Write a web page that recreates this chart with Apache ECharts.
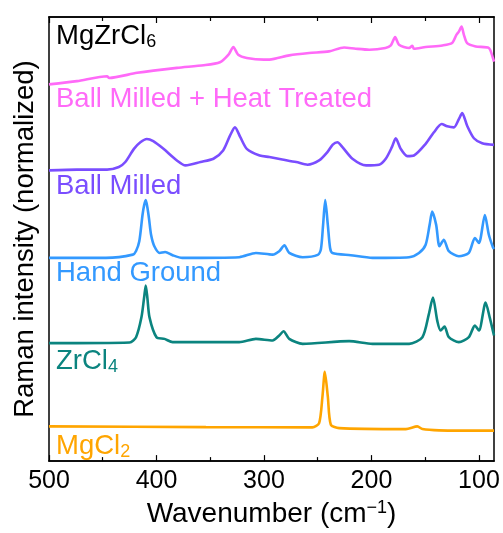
<!DOCTYPE html>
<html>
<head>
<meta charset="utf-8">
<script src="https://cdn.jsdelivr.net/npm/echarts@6/dist/echarts.min.js"></script>
<style>
html,body{margin:0;padding:0;background:#fff}
#chart{width:503px;height:533px}
</style>
</head>
<body>
<div id="chart"></div>
<script>
// spectra, stacked with offsets: [wavenumber (cm-1), intensity + offset]
var heatTreated = [[500,380],[474,383.3],[446,388.3],[444,386.5],[418,391.7],[381,396.7],[356,399.3],[341,402.3],[333,410],[328.5,417.7],[324,410],[316,406.7],[300,405],[295,405],[276.5,409.3],[258,411.7],[239.5,413.3],[225.5,417.3],[214.6,416],[202,415],[187,416.7],[182,419.3],[178,427.7],[174.4,420],[165,416.7],[162,419],[160.5,416],[149.6,417.7],[134,419.3],[125,421.7],[121,430],[118.7,433.3],[116.2,438.3],[114,430],[111,421.7],[103,418.3],[90.8,416.7],[87,406.7],[86,403]];
var ballMilled = [[500,293.3],[474,294],[446,294],[435,296.7],[429,301.7],[421,315],[415,321.7],[409,325],[403,322.7],[393.5,315],[381,303.3],[373,298.3],[359,301.7],[347,305],[338,313.3],[331.6,328.3],[327,336.7],[322,326.7],[316,315],[304,308.3],[295,306.7],[283,304.3],[270,301.7],[259.5,299],[248.7,303.3],[241,311.7],[236,319.3],[231.7,321.7],[227,316.7],[217.7,305],[205,298.3],[193,299],[186.7,305],[181,316.7],[177.4,325.7],[172.8,315],[166.7,307.7],[160.5,308.3],[149.6,320],[141.9,331.7],[134.7,340],[129.5,337.7],[123.3,336.7],[118.7,345],[115.6,351],[111,338.3],[104.7,325.7],[97,320.7],[86,319]];
var handGround = [[500,205],[447,205],[422,208.3],[419,212],[416,221.7],[413,248.3],[411.5,258],[410,263.3],[408.5,256],[407,245],[405,228],[402,216.7],[397,210],[392,211],[385,207.7],[376,205],[323,205.7],[307.5,210],[292,208.3],[285.8,211.7],[281,217.7],[276.5,210],[264,205.7],[250,208],[247,214],[245,238.3],[243,263.3],[240.6,238.3],[238.5,215],[236.3,210],[219.3,207.7],[199,205],[165,205.7],[155.8,210],[149.6,218.3],[145.9,238.3],[143.5,251.7],[139.8,238.3],[136.7,216.7],[132.7,223.3],[128,211.7],[118.7,206.7],[109.4,210],[103.8,225],[100,220],[94.5,248.3],[90.8,228.3],[87,215.7],[86,214]];
var zrcl4 = [[500,119],[425,119.7],[419,125],[414,145],[411.5,165],[410,177],[408.5,165],[406.5,145],[400,125],[392.5,123.3],[385,120],[323,120],[307.5,123.3],[292,121.7],[285.8,126.7],[281.8,131],[276.5,123.3],[264,118.3],[220.8,121],[199,118.3],[165,118.3],[152.6,125],[146.6,148.3],[142.8,165],[138.8,141.7],[135.7,131.7],[132,135.7],[128,125],[118.7,120],[109.4,125],[103.8,136.7],[100,131.7],[93.8,160],[90,145],[86,126.7]];
var mgcl2 = [[500,35],[354,34.3],[255,34],[248.7,38.3],[245.6,65],[243.4,90],[240.6,65],[237.8,36.7],[230,33.3],[168,32.3],[157.3,35],[152.6,32.3],[137,31],[86,30.7]];

var spectra = [heatTreated, ballMilled, handGround, zrcl4, mgcl2];
var seriesNames = ['Ball Milled + Heat Treated', 'Ball Milled', 'Hand Ground', 'ZrCl4', 'MgCl2'];
// label text in rich-text form (subscripts)
var labelTexts = ['{m|Ball Milled + Heat Treated}', '{m|Ball Milled}', '{m|Hand Ground}', '{m|ZrCl}{s|4}', '{m|MgCl}{s|2}'];
var colors = ['#ff6af8', '#7a4dff', '#3399ff', '#0b847f', '#ffa500'];
var titleText = '{m|MgZrCl}{s|6}';
var xMajor = [100, 200, 300, 400, 500];
var xMinor = [150, 250, 350, 450];

var FONT = '"Liberation Sans", Arial, Helvetica, sans-serif';
var chart = echarts.init(document.getElementById('chart'));

function richStyle(col) {
  return {
    m: {fontSize: 27.5, fontFamily: FONT, fill: col, lineHeight: 30},
    s: {fontSize: 18, fontFamily: FONT, fill: col, lineHeight: 13, verticalAlign: 'bottom'}
  };
}

function xAx(pos, vals, len, showLabel) {
  return {
    type: 'value', position: pos, min: 86, max: 500, inverse: true,
    axisLine: {show: true, onZero: false, lineStyle: {color: '#000', width: 1.5}},
    axisTick: {show: true, inside: true, length: len, customValues: vals, lineStyle: {color: '#000', width: 1.2}},
    axisLabel: {show: showLabel, customValues: vals, margin: 8, color: '#000', fontSize: 25, fontFamily: FONT},
    splitLine: {show: false}
  };
}

var xAxes = [xAx('bottom', xMajor, 6, true), xAx('bottom', xMinor, 4, false), xAx('top', xMajor, 6, false), xAx('top', xMinor, 4, false)];
xAxes[0].name = '{m|Wavenumber (cm}{p|\u22121}{m|)}';
xAxes[0].nameLocation = 'middle';
xAxes[0].nameGap = 36;
xAxes[0].nameTextStyle = {
  rich: {
    m: {fontSize: 28, fontFamily: FONT, color: '#000', lineHeight: 30},
    p: {fontSize: 18, fontFamily: FONT, color: '#000', lineHeight: 22, verticalAlign: 'top'}
  }
};

var series = spectra.map(function (d, i) {
  return {
    name: seriesNames[i], type: 'line', data: d, showSymbol: false,
    smooth: 0.25, xAxisIndex: 0, yAxisIndex: 0,
    lineStyle: {color: colors[i], width: 2.6}, itemStyle: {color: colors[i]}
  };
});

var labelY = [100, 187.5, 274, 362.5, 447];
var graphic = labelTexts.map(function (t, i) {
  return {
    type: 'text', left: 56, top: labelY[i] - 15, z: 10,
    style: {text: t, rich: richStyle(colors[i]), fill: colors[i], fontSize: 27.5, fontFamily: FONT}
  };
});
graphic.push({
  type: 'text', left: 56, top: 37 - 15, z: 10,
  style: {text: titleText, rich: richStyle('#000'), fill: '#000', fontSize: 27.5, fontFamily: FONT}
});

chart.setOption({
  animation: false,
  backgroundColor: '#fff',
  grid: {left: 49, right: 9, top: 17, bottom: 68},
  xAxis: xAxes,
  yAxis: [{
    type: 'value', min: 0, max: 448,
    name: 'Raman intensity (normalized)', nameLocation: 'middle', nameGap: 10,
    nameTextStyle: {fontSize: 27.5, fontFamily: FONT, color: '#000'},
    axisLine: {show: true, lineStyle: {color: '#000', width: 1.5}},
    axisTick: {show: false}, axisLabel: {show: false}, splitLine: {show: false}
  }, {
    type: 'value', min: 0, max: 448, position: 'right',
    axisLine: {show: true, lineStyle: {color: '#000', width: 1.5}},
    axisTick: {show: false}, axisLabel: {show: false}, splitLine: {show: false}
  }],
  series: series,
  graphic: graphic
});
</script>
</body>
</html>
